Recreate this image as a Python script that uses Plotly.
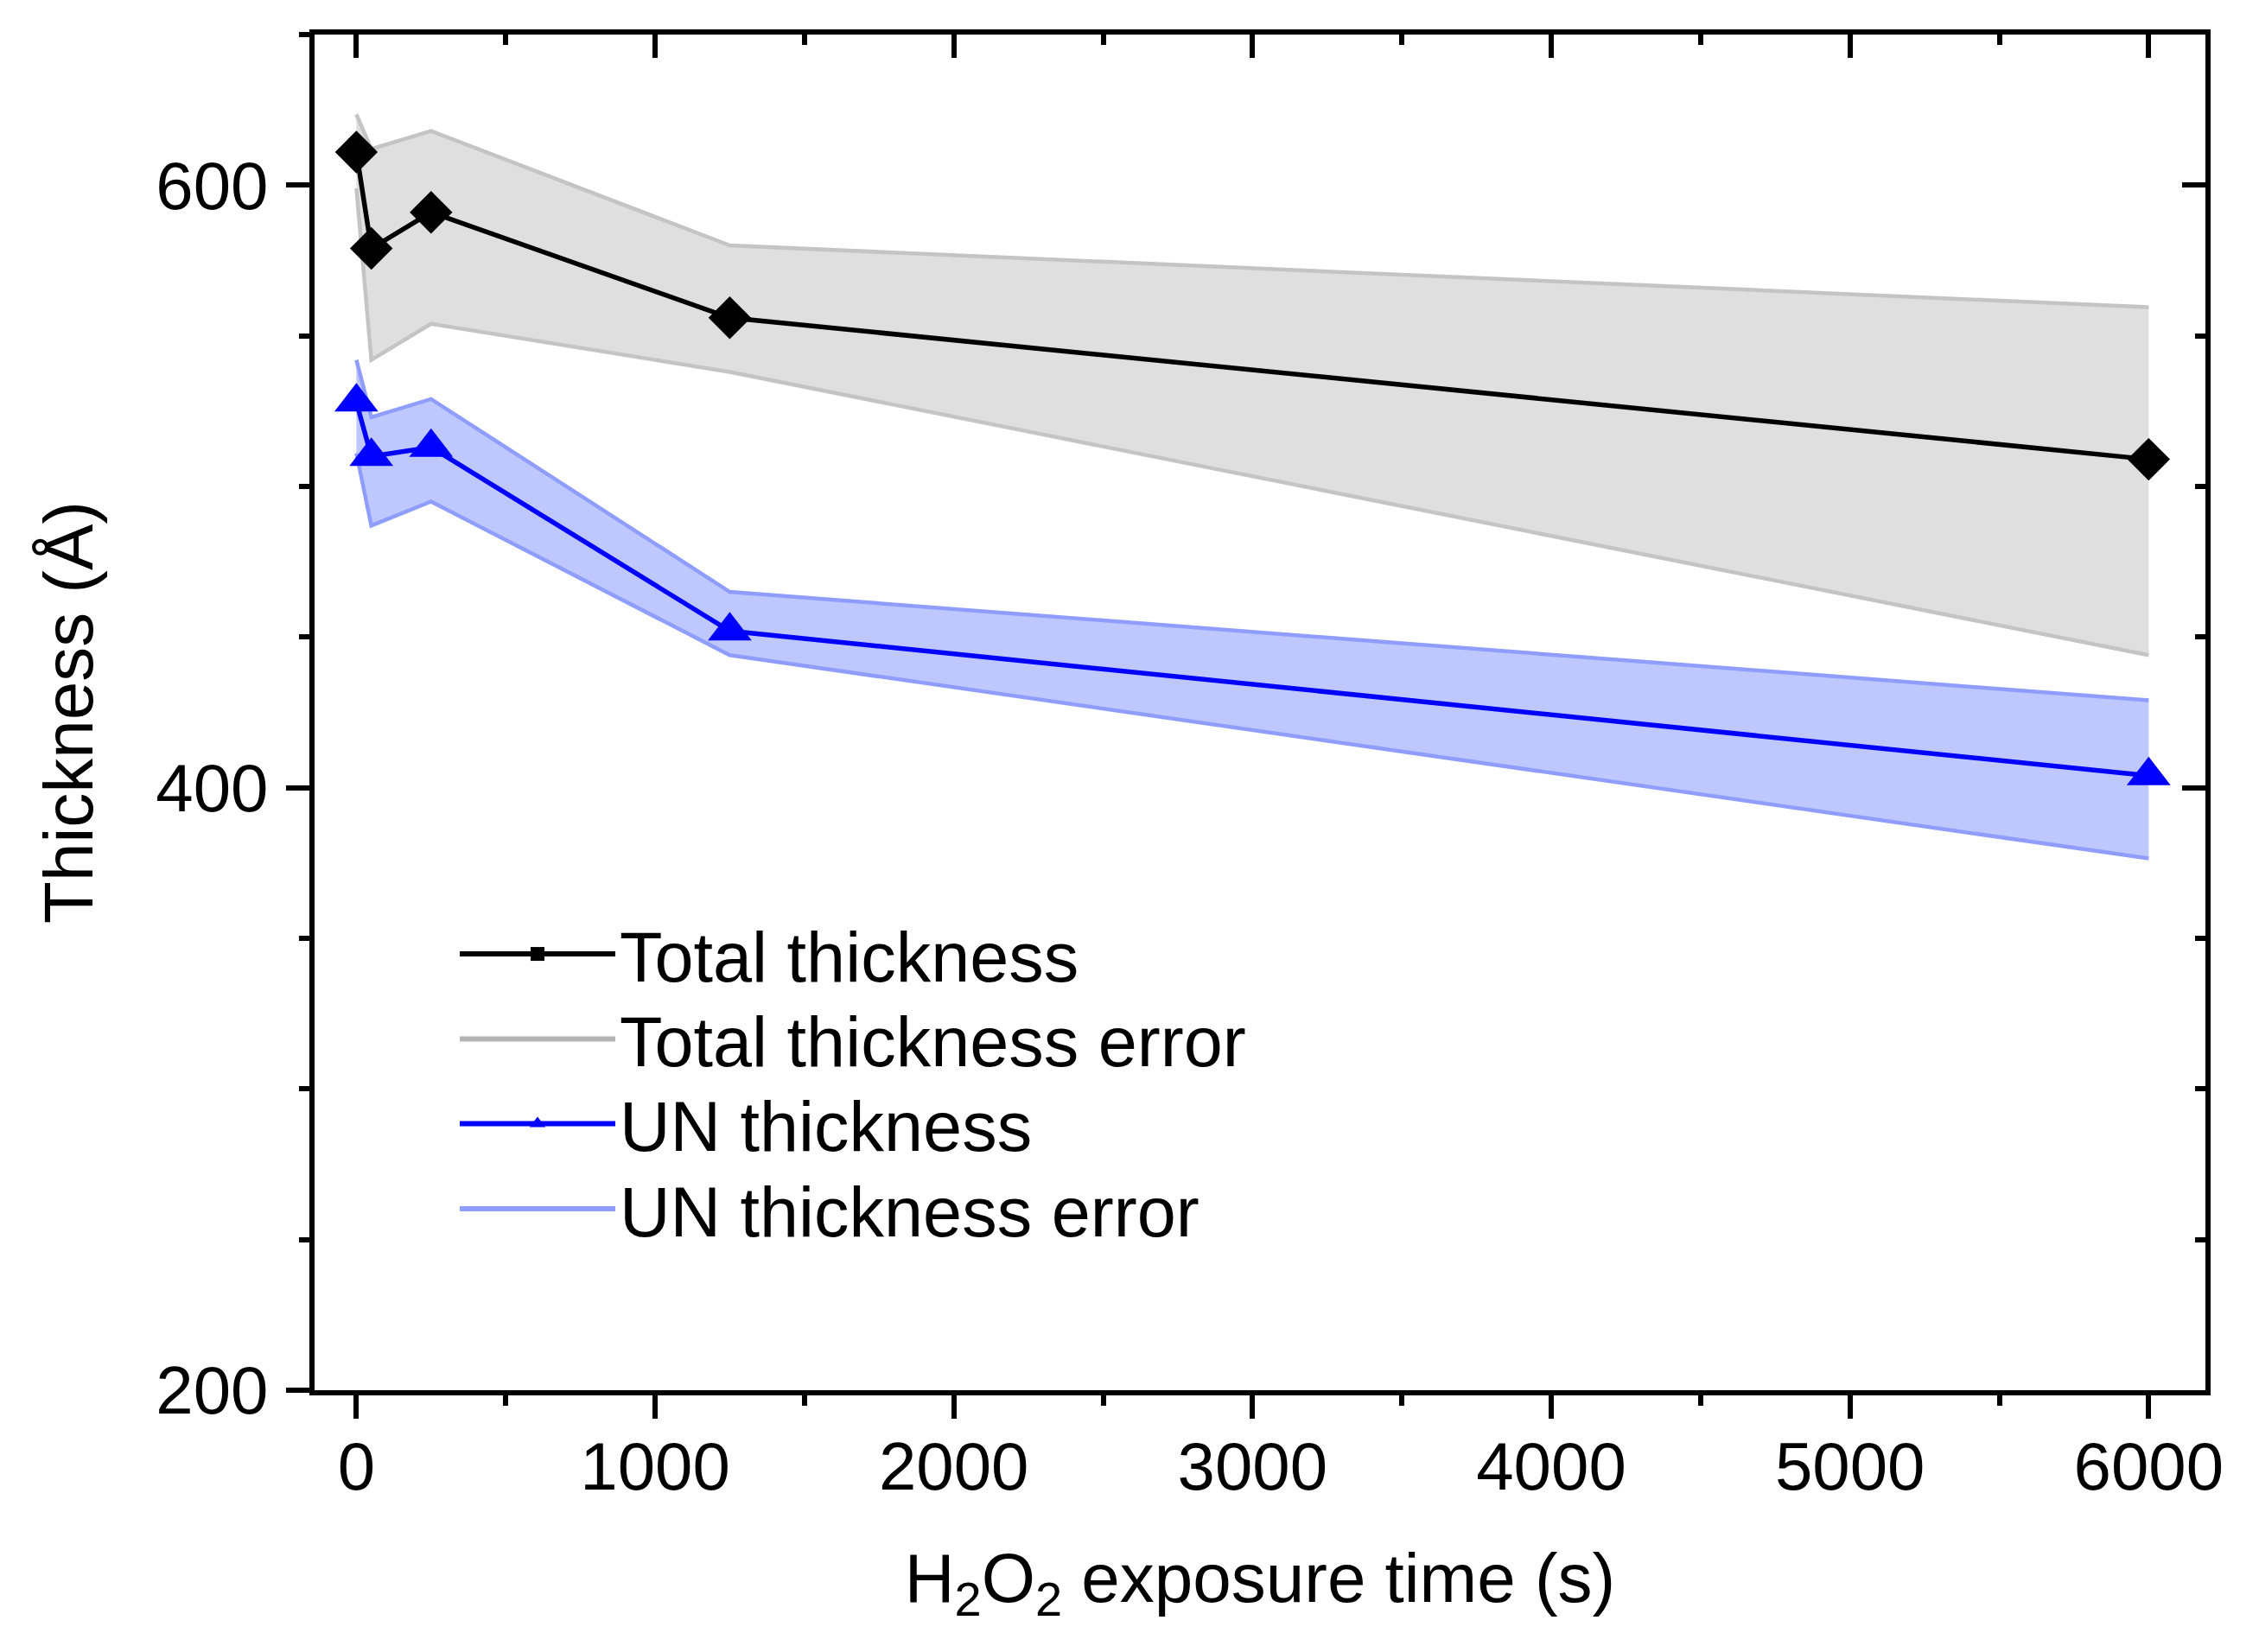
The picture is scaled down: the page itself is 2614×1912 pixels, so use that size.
import plotly.graph_objects as go

# values
time_s = [0, 50, 250, 1250, 6000]
total_thickness = [611, 579, 591, 556, 509]
total_err_upper = [623.5, 612, 618, 580, 559.5]
total_err_lower = [599, 542, 554, 538, 444]
un_thickness = [528, 510, 513, 452, 404]
un_err_upper = [542, 523, 529, 465, 429]
un_err_lower = [511, 487, 495, 444, 376.5]

legend_names = ["Total thickness", "Total thickness error", "UN thickness", "UN thickness error"]

x_range = [-140, 6190]
y_range = [200, 650]

FONT = "Liberation Sans, Arial, sans-serif"
GREY_LINE = "#c4c4c4"
GREY_FILL = "#dfdfdf"
BLUE_LINE = "#8f9dff"
BLUE_FILL = "#bec8fe"

fig = go.Figure()

# error bands: lower line first, then upper line filled down to it
fig.add_trace(go.Scatter(x=time_s, y=total_err_lower, mode="lines",
                         line=dict(color=GREY_LINE, width=4.5),
                         showlegend=False, hoverinfo="skip"))
fig.add_trace(go.Scatter(x=time_s, y=total_err_upper, mode="lines",
                         line=dict(color=GREY_LINE, width=4.5),
                         fill="tonexty", fillcolor=GREY_FILL,
                         showlegend=False, hoverinfo="skip"))
fig.add_trace(go.Scatter(x=time_s, y=un_err_lower, mode="lines",
                         line=dict(color=BLUE_LINE, width=4.5),
                         showlegend=False, hoverinfo="skip"))
fig.add_trace(go.Scatter(x=time_s, y=un_err_upper, mode="lines",
                         line=dict(color=BLUE_LINE, width=4.5),
                         fill="tonexty", fillcolor=BLUE_FILL,
                         showlegend=False, hoverinfo="skip"))

# measured series
fig.add_trace(go.Scatter(x=time_s, y=total_thickness, mode="lines+markers",
                         line=dict(color="black", width=5.5),
                         marker=dict(symbol="diamond", size=38, color="black"),
                         showlegend=False))
fig.add_trace(go.Scatter(x=time_s, y=un_thickness, mode="lines+markers",
                         line=dict(color="#0000ff", width=5.5),
                         marker=dict(symbol="triangle-up", size=44, color="#0000ff"),
                         showlegend=False))

# legend-only entries, one small legend each so the row spacing can follow Origin
fig.add_trace(go.Scatter(x=[None], y=[None], mode="lines+markers", name=legend_names[0],
                         line=dict(color="black", width=6),
                         marker=dict(symbol="square", size=16, color="black"),
                         legend="legend"))
fig.add_trace(go.Scatter(x=[None], y=[None], mode="lines", name=legend_names[1],
                         line=dict(color="#b4b4b4", width=6), legend="legend2"))
fig.add_trace(go.Scatter(x=[None], y=[None], mode="lines+markers", name=legend_names[2],
                         line=dict(color="#0000ff", width=6),
                         marker=dict(symbol="triangle-up", size=16, color="#0000ff"),
                         legend="legend3"))
fig.add_trace(go.Scatter(x=[None], y=[None], mode="lines", name=legend_names[3],
                         line=dict(color=BLUE_LINE, width=6), legend="legend4"))

# dummy trace so the top/right axes (inside ticks) get drawn
fig.add_trace(go.Scatter(x=[None], y=[None], xaxis="x2", yaxis="y2",
                         showlegend=False, hoverinfo="skip"))

common = dict(showgrid=False, zeroline=False, showline=True,
              linecolor="black", linewidth=6, tickcolor="black", tickwidth=6)
minor_out = dict(ticks="outside", ticklen=12, tickwidth=6, tickcolor="black")
minor_in = dict(ticks="inside", ticklen=12, tickwidth=6, tickcolor="black")


def legend_at(y):
    return dict(x=0.0745, y=y, xanchor="left", yanchor="middle",
                bgcolor="rgba(0,0,0,0)", font=dict(size=81), itemwidth=180)


fig.update_layout(
    width=2598, height=1896,
    margin=dict(l=356, r=54, t=32, b=295),
    plot_bgcolor="white", paper_bgcolor="white",
    font=dict(family=FONT, color="black", size=78),
    xaxis=dict(range=x_range, tick0=0, dtick=1000, ticks="outside", ticklen=27,
               minor=dict(dtick=500, **minor_out),
               tickfont=dict(size=78), ticklabelstandoff=-12,
               title=dict(text="H<sub>2</sub>O<sub>2</sub> exposure time (s)",
                          font=dict(size=80), standoff=60),
               **common),
    yaxis=dict(range=y_range, tick0=200, dtick=200, ticks="outside", ticklen=27,
               minor=dict(dtick=50, **minor_out),
               tickfont=dict(size=78), ticklabelstandoff=5,
               title=dict(text="Thickness (Å)", font=dict(size=80), standoff=48),
               **common),
    xaxis2=dict(range=x_range, overlaying="x", side="top", anchor="y",
                tick0=0, dtick=1000, ticks="inside", ticklen=27,
                minor=dict(dtick=500, **minor_in),
                showticklabels=False, **common),
    yaxis2=dict(range=y_range, overlaying="y", side="right", anchor="x",
                tick0=200, dtick=200, ticks="inside", ticklen=27,
                minor=dict(dtick=50, **minor_in),
                showticklabels=False, **common),
    legend=legend_at(0.3216),
    legend2=legend_at(0.2589),
    legend3=legend_at(0.1964),
    legend4=legend_at(0.1336),
)

fig.write_html("out.html")
